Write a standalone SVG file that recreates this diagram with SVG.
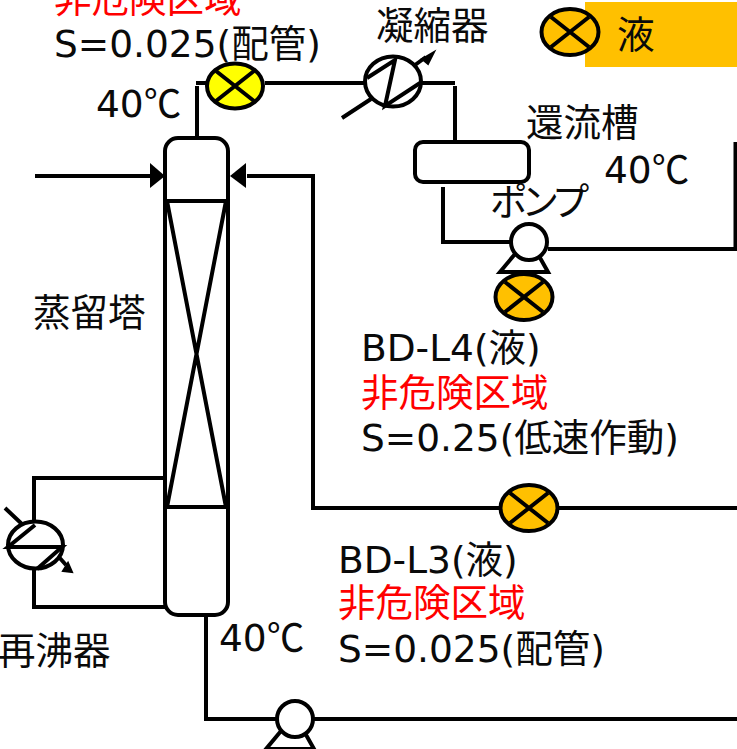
<svg xmlns="http://www.w3.org/2000/svg" width="737" height="749" viewBox="0 0 737 749">
<style>
text{font-family:"DejaVu Sans","Noto Sans CJK JP",sans-serif;font-size:37.5px;fill:#0a0a0a}
.c{font-family:"Noto Sans CJK JP",sans-serif}
.r{fill:#f00}
.l,.s{fill:none;stroke:#000;stroke-width:4}
.s{fill:#fff}
.o{fill:#ffc000;stroke:#000;stroke-width:4}
.y{fill:#ff0;stroke:#000;stroke-width:4}
</style>
<defs>
<g id="x"><path d="M-19-15L19 15M19-15L-19 15" class="l"/></g>
<g id="pump"><path d="M-14 12L-29 30H19L10 14" class="s"/><circle r="18" class="s"/></g>
</defs>
<rect id="legend-bg" x="585" y="2" width="152" height="65" fill="#ffc000"/>
<g id="connectors" class="l">
<path d="M196 83H206M197 86V138M265 83H364M422 83H455M455 86V141"/>
<path d="M443 187V242H511M548 249H737M735.5 142V249"/>
<path d="M35 176H150M247 176H313V508H500M559 508H737"/>
<path d="M165 478H34V522M34 569V607H165"/>
<path d="M206 615V719H276M313 719H737"/>
<path d="M342 118L371 99M415 65L426 57M5 508L23 525M58 556L66 565"/>
<path d="M150 163L165 176L150 188Z" fill="#000" stroke="none"/>
<path d="M246 163L230 176L246 188Z" fill="#000" stroke="none"/>
<path d="M422 59L434 52L428 64Z" fill="#000" stroke="#000" stroke-width="2"/>
<path d="M63 571L72 572L68 563Z" fill="#000" stroke="#000" stroke-width="2"/>
</g>
<g id="column">
<rect x="165" y="138" width="63" height="477" rx="13" class="s"/>
<path d="M165 201H228M165 507H228M167 201L226 507M226 201L167 507" class="l"/>
</g>
<g id="condenser">
<ellipse cx="393" cy="81.5" rx="28" ry="25" class="s"/>
<path d="M367 78L395 60L385 106L420 83" class="l"/>
</g>
<g id="reboiler">
<ellipse cx="35.5" cy="545" rx="27.5" ry="23.5" class="s"/>
<path d="M35 525L8 547H62L37 569" class="l"/>
</g>
<g id="drum"><rect x="415" y="142" width="114" height="40" rx="8" class="s"/></g>
<g id="pump1"><use href="#pump" x="529" y="242"/></g>
<g id="pump2"><use href="#pump" x="295" y="719"/></g>
<g id="valve-top"><ellipse cx="235" cy="86" rx="28" ry="22.5" class="y"/><use href="#x" x="235" y="86"/></g>
<g id="valve-legend"><ellipse cx="570" cy="32" rx="28.5" ry="23" class="o"/><use href="#x" x="570" y="32"/></g>
<g id="valve-l4"><ellipse cx="524" cy="297" rx="28.5" ry="23" class="o"/><use href="#x" x="524" y="297"/></g>
<g id="valve-l3"><ellipse cx="529" cy="508" rx="28.5" ry="23" class="o"/><use href="#x" x="529" y="508"/></g>
<g id="labels">
<text x="54" y="12" class="r">非危険区域</text>
<text x="54" y="57">S=0.025(配管)</text>
<text x="96" y="117">40<tspan class="c">℃</tspan></text>
<text x="376" y="39">凝縮器</text>
<text x="617" y="48">液</text>
<text x="526" y="136">還流槽</text>
<text x="604" y="183">40<tspan class="c">℃</tspan></text>
<text x="490" y="215" letter-spacing="-6">ポンプ</text>
<text x="33" y="326">蒸留塔</text>
<text x="361" y="361">BD-L4(液)</text>
<text x="361" y="406" class="r">非危険区域</text>
<text x="361" y="451">S=0.25(低速作動)</text>
<text x="338" y="573">BD-L3(液)</text>
<text x="338" y="616" class="r">非危険区域</text>
<text x="338" y="662">S=0.025(配管)</text>
<text x="-2" y="664">再沸器</text>
<text x="219" y="651">40<tspan class="c">℃</tspan></text>
</g>
</svg>
